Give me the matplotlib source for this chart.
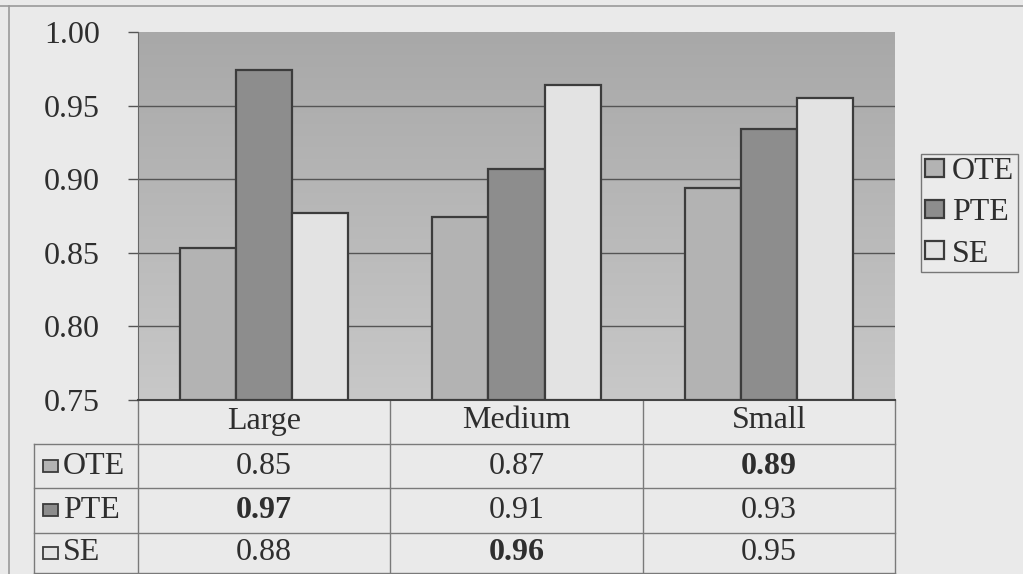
import numpy as np
import matplotlib
matplotlib.use('Agg')
import matplotlib.pyplot as plt
from matplotlib.patches import Rectangle

# Data
categories = ['Large', 'Medium', 'Small']
series = ['OTE', 'PTE', 'SE']
ote = [0.853, 0.874, 0.894]
pte = [0.974, 0.907, 0.934]
se = [0.877, 0.964, 0.955]
table_ote = [0.85, 0.87, 0.89]
table_pte = [0.97, 0.91, 0.93]
table_se = [0.88, 0.96, 0.95]
yticks = [0.75, 0.80, 0.85, 0.90, 0.95, 1.00]

colors = ['#b3b3b3', '#8d8d8d', '#e3e3e3']
edge = '#3c3c3c'
line_c = '#7a7a7a'
txt_c = '#2e2e2e'
fs = 23

plt.rcParams['font.family'] = ['Liberation Serif', 'DejaVu Serif']

W, H = 1023, 574
fig = plt.figure(figsize=(W / 100, H / 100), dpi=100, facecolor='#eaeaea')

# plot area in pixels
L, R, T, B = 138, 895, 32, 400
ax = fig.add_axes([L / W, 1 - B / H, (R - L) / W, (B - T) / H])
ax.set_facecolor('none')

# gradient background of the plot area
grad = np.linspace(0, 1, 256).reshape(-1, 1)
ax.imshow(grad, cmap=matplotlib.colors.LinearSegmentedColormap.from_list('g', ['#a8a8a8', '#c8c8c8']),
          extent=[-0.5, 2.5, 0.75, 1.0], aspect='auto', zorder=0, origin='upper')

x = np.arange(len(categories))
w = 1 / 4.5
for i, (vals, c) in enumerate(zip([ote, pte, se], colors)):
    ax.bar(x + (i - 1) * w, np.array(vals) - 0.75, bottom=0.75, width=w, color=c,
           edgecolor=edge, linewidth=1.6, zorder=3, label=series[i])

ax.set_xlim(-0.5, 2.5)
ax.set_ylim(0.75, 1.0)
ax.set_yticks(yticks)
ax.set_yticklabels([f'{v:.2f}' for v in yticks], fontsize=fs, color=txt_c)
ax.set_xticks([])
for v in yticks[1:-1]:
    ax.axhline(v, color='#555555', lw=1, zorder=1)
ax.tick_params(axis='y', length=7.5, width=1, color='#555555', pad=20)
for s in ['top', 'right']:
    ax.spines[s].set_visible(False)
ax.spines['left'].set_color('#666666')
ax.spines['bottom'].set_color('#444444')
ax.spines['bottom'].set_linewidth(1.5)


def ay(py):
    return (B - py) / (B - T)


def axx(px):
    return (px - L) / (R - L)


# data table below the plot
lk = dict(color=line_c, lw=1, transform=ax.transAxes, clip_on=False)
for py in [444, 488, 533, 573]:
    ax.plot([axx(34), 1], [ay(py), ay(py)], **lk)
ax.plot([axx(34), axx(34)], [ay(444), ay(574)], **lk)
bt = ax.get_xaxis_transform()
for xv in [-0.5, 0.5, 1.5, 2.5]:
    ax.plot([xv, xv], [0, ay(574)], color=line_c, lw=1, transform=bt, clip_on=False)

for xi, cat in enumerate(categories):
    ax.text(xi, ay(421), cat, transform=bt, ha='center', va='center', fontsize=fs, color=txt_c)

rows_y = [466, 510, 553]
for r, (name, vals, c) in enumerate(zip(series, [table_ote, table_pte, table_se], colors)):
    yy = ay(rows_y[r])
    ax.add_patch(Rectangle((axx(43), yy - 6 / (B - T)), 15 / (R - L), 12 / (B - T),
                           transform=ax.transAxes, facecolor=c, edgecolor=edge, lw=1.3, clip_on=False))
    ax.text(axx(63), yy, name, transform=ax.transAxes, ha='left', va='center', fontsize=fs, color=txt_c)
    mx = max(vals)
    for xi, v in enumerate(vals):
        ax.text(xi, yy, f'{v:.2f}', transform=bt, ha='center', va='center', fontsize=fs, color=txt_c,
                fontweight='bold' if v == mx else 'normal')

# legend
leg = ax.legend(loc='center left', bbox_to_anchor=(axx(921), ay(213)), fontsize=fs, frameon=True,
                fancybox=False, edgecolor='#777777', facecolor='#ebebeb', framealpha=1,
                handlelength=0.6, handleheight=0.5, handletextpad=0.25, borderpad=0.12,
                labelspacing=0.38, borderaxespad=0)
for t in leg.get_texts():
    t.set_color(txt_c)

# outer chart frame
fig.add_artist(plt.Line2D([0, 1], [1 - 6 / H, 1 - 6 / H], color='#9a9a9a', lw=1.2))
fig.add_artist(plt.Line2D([9 / W, 9 / W], [0, 1 - 6 / H], color='#9a9a9a', lw=1.2))

fig.savefig('out.png', dpi=100, facecolor=fig.get_facecolor())
